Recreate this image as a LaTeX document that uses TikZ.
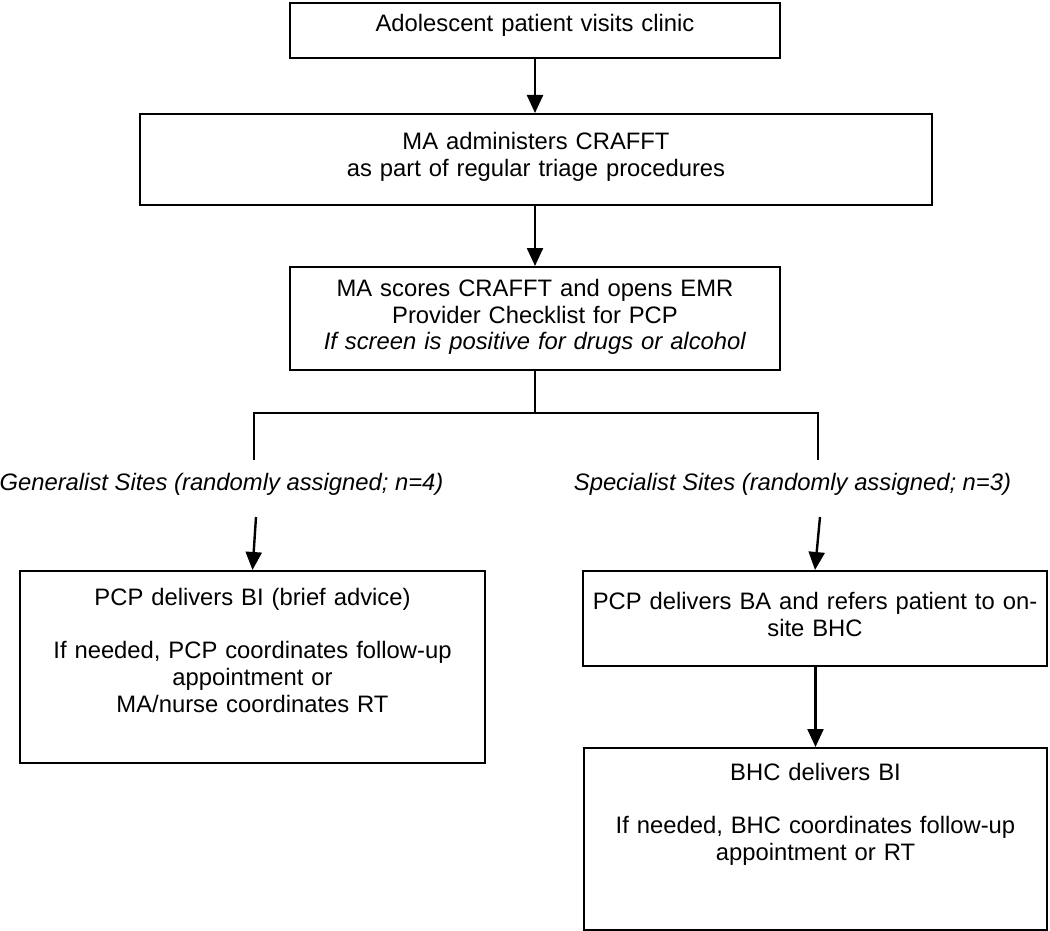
\documentclass[tikz,border=0pt]{standalone}
\usepackage{fontspec}
\setmainfont{Liberation Sans}
\usepackage{tikz}
\usetikzlibrary{arrows.meta, positioning}

\begin{document}
\begin{tikzpicture}[x=0.5pt,y=-0.5pt,font=\fontsize{11.9}{13.3}\selectfont]
    \tikzset{
        step box/.style={draw, line width=1.1pt, align=center, inner xsep=2.5pt, inner ysep=0pt, anchor=north},
        site label/.style={anchor=base, font=\fontsize{11.9}{13.3}\selectfont\itshape},
        flow arrow/.style={line width=1.2pt, -{Triangle[width=8pt,length=9pt]}},
        flow line/.style={line width=1.2pt}
      }
\useasboundingbox (0,0) rectangle (1050,931);
% top of the flow
\node[step box, text width=240pt, text height=14.25pt, text depth=13.25pt](visit) at (535,2) {Adolescent patient visits clinic};
\node[step box, text width=391pt, text height=17.75pt, text depth=27.75pt](administer) at (536,113) {MA administers CRAFFT\\as part of regular triage procedures};
\node[step box, text width=240pt, text height=14.75pt, text depth=36.75pt](scores) at (535,266) {MA scores CRAFFT and opens EMR\\Provider Checklist for PCP\\\textit{If screen is positive for drugs or alcohol}};
% the two arms
\node[site label](generalist) at (221.5,490.5) {Generalist Sites (randomly assigned; n=4)};
\node[site label](specialist) at (792.5,490.5) {Specialist Sites (randomly assigned; n=3)};
\node[step box, text width=227.5pt, text height=17.25pt, text depth=78.75pt](pcpbi) at (252.5,570) {PCP delivers BI (brief advice)\\[13.3pt]If needed, PCP coordinates follow-up\\appointment or\\MA/nurse coordinates RT};
\node[step box, text width=227pt, text height=19.25pt, text depth=28.25pt](pcpba) at (815,570) {PCP delivers BA and refers patient to on-\\site BHC};
\node[step box, text width=226.5pt, text height=16.25pt, text depth=74.75pt](bhc) at (815.5,747) {BHC delivers BI\\[13.3pt]If needed, BHC coordinates follow-up\\appointment or RT};
\coordinate (split) at (535,413);
\coordinate (gtop) at (254,460);
\coordinate (stop) at (818,460);
\coordinate (garrow) at (256,517);
\coordinate (sarrow) at (820,517);
% connectors
\draw[flow arrow] (visit.south) -- (visit.south |- administer.north);
\draw[flow arrow] (administer.south -| scores.north) -- (scores.north);
\draw[flow line] (scores.south) -- (split);
\draw[flow line] (gtop) -- (gtop |- split) -- (stop |- split) -- (stop);
\draw[flow arrow] (garrow) -- (pcpbi.north);
\draw[flow arrow] (sarrow) -- (pcpba.north);
\draw[flow arrow] (pcpba.south -| bhc.north) -- (bhc.north);
\end{tikzpicture}
\end{document}
